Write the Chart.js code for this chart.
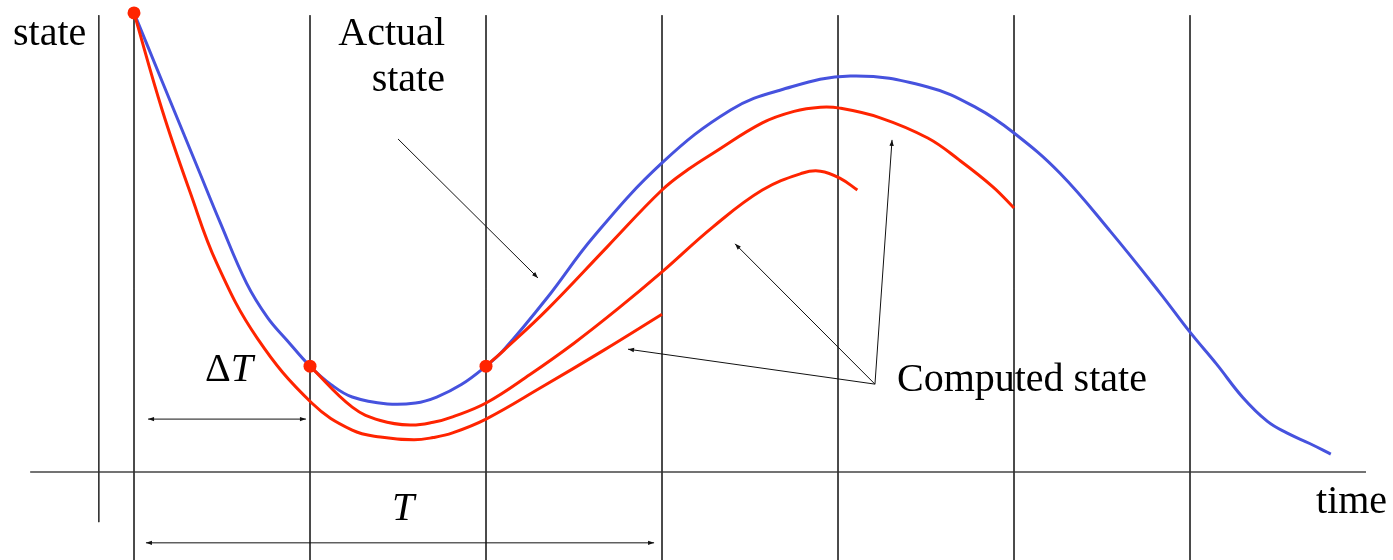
<!DOCTYPE html>
<html>
<head>
<meta charset="utf-8">
<script src="https://cdn.jsdelivr.net/npm/chart.js@4.4.1/dist/chart.umd.min.js"></script>
<style>
  body { margin: 0; background: #fff; }
  #contenedor { width: 1393px; height: 560px; }
</style>
</head>
<body>
<div id="contenedor"><canvas id="grafico" width="1393" height="560"></canvas></div>
<script>
// tiempo en pasos de muestreo (ΔT), estado en unidades arbitrarias
const tiempoReal = [0, 0.16, 0.36, 0.49, 0.64, 0.76, 0.87, 1.0, 1.12, 1.24, 1.44, 1.6, 1.72, 1.86, 2.0, 2.1, 2.35, 2.61, 3.0, 3.39, 3.67, 4.07, 4.51, 4.79, 5.0, 5.26, 5.55, 5.83, 6.0, 6.15, 6.3, 6.44, 6.55, 6.68, 6.8];
const estadoReal = [9.98, 8.49, 6.63, 5.42, 4.10, 3.35, 2.86, 2.30, 1.90, 1.63, 1.48, 1.50, 1.63, 1.90, 2.30, 2.65, 3.80, 5.11, 6.72, 7.87, 8.30, 8.61, 8.37, 7.91, 7.37, 6.50, 5.22, 3.89, 3.04, 2.35, 1.62, 1.10, 0.85, 0.62, 0.39];

const tiempoCalc1 = [0, 0.16, 0.32, 0.47, 0.7, 1.01, 1.24, 1.4, 1.59, 1.7, 1.81, 2.0, 2.31, 2.67, 3.0];
const estadoCalc1 = [9.98, 7.87, 6.07, 4.54, 2.91, 1.50, 0.91, 0.76, 0.70, 0.75, 0.85, 1.15, 1.83, 2.65, 3.43];

const tiempoCalc2 = [1.0, 1.24, 1.4, 1.57, 1.7, 1.81, 2.0, 2.25, 2.5, 2.75, 3.0, 3.29, 3.57, 3.8, 3.9, 4.01, 4.11];
const estadoCalc2 = [2.30, 1.41, 1.12, 1.02, 1.08, 1.20, 1.50, 2.12, 2.80, 3.55, 4.35, 5.33, 6.13, 6.50, 6.54, 6.39, 6.13];

const tiempoCalc3 = [2.0, 2.1, 2.35, 2.69, 3.0, 3.15, 3.29, 3.57, 3.75, 3.9, 4.01, 4.24, 4.51, 4.69, 4.88, 5.0];
const estadoCalc3 = [2.30, 2.64, 3.54, 4.90, 6.13, 6.58, 6.93, 7.59, 7.84, 7.93, 7.91, 7.70, 7.26, 6.78, 6.20, 5.74];

// instantes de medicion (puntos rojos)
const tiempoMedido = [0, 1, 2];
const estadoMedido = [9.98, 2.30, 2.30];

const instantesMuestreo = [0, 1, 2, 3, 4, 5, 6];

function aPuntos(ts, ss) {
  return ts.map((t, i) => ({ x: t, y: ss[i] }));
}

const azul = 'rgb(70, 82, 222)';
const rojo = 'rgb(255, 36, 0)';

let datasets = [];

datasets.push({
  data: aPuntos(tiempoMedido, estadoMedido),
  showLine: false,
  pointRadius: 6.5,
  pointBackgroundColor: rojo,
  pointBorderWidth: 0,
  order: 0
});

[[tiempoCalc1, estadoCalc1], [tiempoCalc2, estadoCalc2], [tiempoCalc3, estadoCalc3]].forEach((serie) => {
  datasets.push({
    data: aPuntos(serie[0], serie[1]),
    borderColor: rojo,
    borderWidth: 3,
    pointRadius: 0,
    tension: 0.4,
    order: 1
  });
});

datasets.push({
  data: aPuntos(tiempoReal, estadoReal),
  borderColor: azul,
  borderWidth: 3,
  pointRadius: 0,
  tension: 0.4,
  order: 2
});

// lineas verticales de muestreo
instantesMuestreo.forEach((t) => {
  datasets.push({
    data: [{ x: t, y: 9.93 }, { x: t, y: -2 }],
    borderColor: '#333',
    borderWidth: 1,
    pointRadius: 0,
    order: 3
  });
});

// ejes
datasets.push({
  data: [{ x: -0.2, y: 9.93 }, { x: -0.2, y: -1.09 }],
  borderColor: '#333', borderWidth: 1, pointRadius: 0, order: 3
});
datasets.push({
  data: [{ x: -0.59, y: 0 }, { x: 7.0, y: 0 }],
  borderColor: '#444', borderWidth: 1.4, pointRadius: 0, order: 3
});

// flechas: [t0, s0, t1, s1, dobles]
const flechas = [
  [1.5, 7.24, 2.295, 4.22, false],
  [4.21, 1.91, 2.807, 2.67, false],
  [4.21, 1.91, 3.415, 4.96, false],
  [4.21, 1.91, 4.307, 7.22, false],
  [0.08, 1.15, 0.977, 1.15, true],
  [0.068, -1.54, 2.955, -1.54, true]
];

const textos = [
  { texto: 'state', t: -0.6875, s: 9.28, alinear: 'left' },
  { texto: 'Actual', t: 1.767, s: 9.28, alinear: 'right' },
  { texto: 'state', t: 1.767, s: 8.28, alinear: 'right' },
  { texto: 'time', t: 6.716, s: -0.89, alinear: 'left' },
  { texto: 'Computed state', t: 4.335, s: 1.76, alinear: 'left' }
];

const fuente = '40px "Liberation Serif", "Times New Roman", serif';
const fuenteItalica = 'italic 40px "Liberation Serif", "Times New Roman", serif';

function dibujarPunta(ctx, xa, ya, xb, yb) {
  const ang = Math.atan2(yb - ya, xb - xa);
  const largo = 6, ancho = 2.2;
  ctx.beginPath();
  ctx.moveTo(xb, yb);
  ctx.lineTo(xb - largo * Math.cos(ang) + ancho * Math.sin(ang), yb - largo * Math.sin(ang) - ancho * Math.cos(ang));
  ctx.lineTo(xb - largo * Math.cos(ang) - ancho * Math.sin(ang), yb - largo * Math.sin(ang) + ancho * Math.cos(ang));
  ctx.closePath();
  ctx.fill();
}

const anotaciones = {
  id: 'anotaciones',
  afterDatasetsDraw(chart) {
    const ctx = chart.ctx;
    const ex = chart.scales.x;
    const ey = chart.scales.y;
    ctx.save();
    ctx.strokeStyle = '#111';
    ctx.fillStyle = '#111';
    ctx.lineWidth = 1;
    flechas.forEach((f) => {
      const x0 = ex.getPixelForValue(f[0]), y0 = ey.getPixelForValue(f[1]);
      const x1 = ex.getPixelForValue(f[2]), y1 = ey.getPixelForValue(f[3]);
      ctx.beginPath();
      ctx.moveTo(x0, y0);
      ctx.lineTo(x1, y1);
      ctx.stroke();
      dibujarPunta(ctx, x0, y0, x1, y1);
      if (f[4]) dibujarPunta(ctx, x1, y1, x0, y0);
    });

    ctx.fillStyle = '#000';
    ctx.textBaseline = 'alphabetic';
    ctx.font = fuente;
    textos.forEach((e) => {
      ctx.textAlign = e.alinear;
      ctx.fillText(e.texto, ex.getPixelForValue(e.t), ey.getPixelForValue(e.s));
    });

    // ΔT y T
    ctx.textAlign = 'left';
    let xd = ex.getPixelForValue(0.403);
    const yd = ey.getPixelForValue(1.98);
    ctx.font = fuente;
    ctx.fillText('Δ', xd, yd);
    xd += ctx.measureText('Δ').width;
    ctx.font = fuenteItalica;
    ctx.fillText('T', xd, yd);
    ctx.fillText('T', ex.getPixelForValue(1.466), ey.getPixelForValue(-1.04));
    ctx.restore();
  }
};

const ctx = document.getElementById('grafico').getContext('2d');
new Chart(ctx, {
  type: 'line',
  data: { datasets: datasets },
  options: {
    responsive: false,
    animation: false,
    devicePixelRatio: 1,
    layout: { padding: 0, autoPadding: false },
    plugins: { legend: { display: false }, tooltip: { enabled: false } },
    scales: {
      x: { type: 'linear', display: false, min: -134 / 176, max: (1393 - 134) / 176 },
      y: { type: 'linear', display: false, min: -88 / 46, max: 472 / 46 }
    }
  },
  plugins: [anotaciones]
});
</script>
</body>
</html>
